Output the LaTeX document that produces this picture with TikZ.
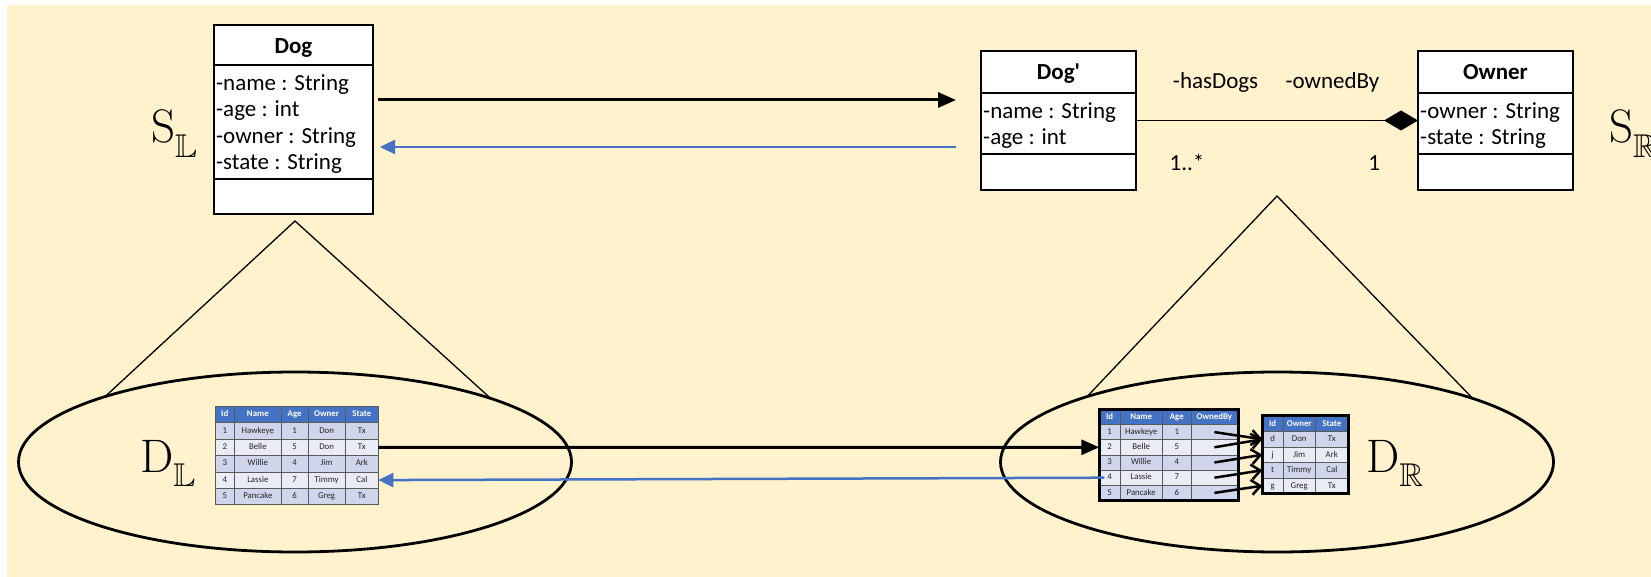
\documentclass[tikz,border=0pt]{standalone}
\usepackage{amssymb}
\usepackage{fontspec}
\usetikzlibrary{arrows.meta,shapes.geometric,matrix}

\newfontfamily\umlfont{Carlito}
\newfontfamily\tabfont{Carlito}

\definecolor{bgyellow}{HTML}{FFF2CC}
\definecolor{mapblue}{HTML}{4472C4}
\definecolor{hdrblue}{HTML}{4472C4}
\definecolor{rowdark}{HTML}{CFD5EA}
\definecolor{rowlight}{HTML}{E9EBF5}
\definecolor{gridgray}{HTML}{5A5A5A}
\definecolor{cellgray}{HTML}{262626}

\begin{document}
\begin{tikzpicture}[x=1pt, y=-1pt,
    classbox/.style={draw, line width=2pt, fill=white, anchor=north west,
        inner sep=0pt, outer sep=0pt},
    attr/.style={anchor=base west, inner sep=0pt,
        font=\umlfont\fontsize{23}{26}\selectfont},
    classname/.style={anchor=base, inner sep=0pt,
        font=\umlfont\fontsize{23}{26}\selectfont\bfseries},
    rolename/.style={anchor=base, inner sep=0pt,
        font=\umlfont\fontsize{23}{26}\selectfont},
    bigname/.style={anchor=base west, inner sep=0pt,
        font=\fontsize{47}{47}\selectfont},
    dataset/.style={ellipse, draw, line width=2.8pt, minimum width=553pt,
        minimum height=180pt, inner sep=0pt, outer sep=0pt},
    dbtable/.style={matrix of nodes, nodes in empty cells, anchor=north west,
        inner sep=0pt, outer sep=0pt, row sep=-0.6pt, column sep=-0.6pt,
        nodes={draw=gridgray, line width=0.6pt, fill=rowlight, anchor=center,
            inner sep=0pt, text height=6.4pt, text depth=1.9pt, text=cellgray,
            font=\tabfont\fontsize{8.8}{9}\selectfont},
        every even row/.style={nodes={fill=rowdark}},
        row 1/.style={nodes={fill=hdrblue, text=white,
            font=\tabfont\fontsize{8.8}{9}\selectfont\bfseries}}},
    fwdmap/.style={line width=3pt, -{Triangle[length=18pt,width=15pt]}},
    backmap/.style={mapblue, line width=2.5pt, -{Triangle[length=15pt,width=14pt]}},
    fkarrow/.style={line width=2.5pt, -{Straight Barb[length=9pt,width=15pt]}},
]
    % Фон
    \useasboundingbox (0,0) rectangle (1651,577);
    \fill[white] (0,0) rectangle (1651,577);
    \fill[bgyellow] (7,5) rectangle (1651,577);

    % Схема слева: класс Dog
    \node[classbox, minimum width=159pt, minimum height=189pt] (dog) at (214,25) {};
    \draw[line width=2pt] (dog.west |- 0,65) -- (dog.east |- 0,65);
    \draw[line width=2pt] (dog.west |- 0,179) -- (dog.east |- 0,179);
    \node[classname] (dogname) at (293.5,53.3) {Dog};
    \foreach \t [count=\i] in {-name : String, -age : int, -owner : String, -state : String}
        \node[attr] (dogattr\i) at (216,64.2+26.3*\i) {\t};

    % Схема справа: Dog' и Owner
    \node[classbox, minimum width=155pt, minimum height=139pt] (dogp) at (981,51) {};
    \draw[line width=2pt] (dogp.west |- 0,92.7) -- (dogp.east |- 0,92.7);
    \draw[line width=2pt] (dogp.west |- 0,154) -- (dogp.east |- 0,154);
    \node[classname] (dogpname) at (1058.5,79.6) {Dog\textquotesingle};
    \foreach \t [count=\i] in {-name : String, -age : int}
        \node[attr] (dogpattr\i) at (983,92.1+26.3*\i) {\t};

    \node[classbox, minimum width=155pt, minimum height=139pt] (owner) at (1418,51) {};
    \draw[line width=2pt] (owner.west |- 0,92.7) -- (owner.east |- 0,92.7);
    \draw[line width=2pt] (owner.west |- 0,154) -- (owner.east |- 0,154);
    \node[classname] (ownername) at (1495.5,79.6) {Owner};
    \foreach \t [count=\i] in {-owner : String, -state : String}
        \node[attr] (ownerattr\i) at (1420,92.1+26.3*\i) {\t};

    % Композиция
    \draw[line width=1.3pt, -{Diamond[length=34pt,width=20pt]}] (dogp.east) -- (owner.west);
    \node[rolename] (hasdogs) at (1215.6,89) {-hasDogs};
    \node[rolename] (ownedby) at (1332.4,89) {-ownedBy};
    \node[rolename] (manyend) at (1187,171) {1..*};
    \node[rolename] (oneend) at (1374.3,171) {1};

    % Отображения между схемами
    \draw[fwdmap, shorten <=5pt, shorten >=25pt] ([yshift=19.5pt]dog.east) -- ([yshift=20.5pt]dogp.west);
    \draw[backmap, shorten <=25pt, shorten >=7pt] ([yshift=-26.5pt]dogp.west) -- ([yshift=-27.5pt]dog.east);

    % Обозначения
    \node[bigname] (sl) at (151,143) {$\mathrm{S}_{\mathbb{L}}$};
    \node[bigname] (sr) at (1609,143) {$\mathrm{S}_{\mathbb{R}}$};
    \node[bigname] (dlname) at (140,472) {$\mathrm{D}_{\mathbb{L}}$};
    \node[bigname] (drname) at (1366,472) {$\mathrm{D}_{\mathbb{R}}$};

    % Множества данных
    \node[dataset] (lset) at (295,462) {};
    \node[dataset] (rset) at (1277,462) {};
    \coordinate (lapex) at (295,221);
    \coordinate (rapex) at (1277,196);
    \draw[line width=1.3pt] (lset.161.9) -- (lapex) -- (lset.18.1);
    \draw[line width=1.3pt] (rset.161.9) -- (rapex) -- (rset.18.1);

    % Таблицы
    \matrix (ltab) [dbtable, nodes={minimum height=16.4pt},
        column 1/.style={nodes={minimum width=18.9pt}},
        column 2/.style={nodes={minimum width=47.3pt}},
        column 3/.style={nodes={minimum width=26.3pt}},
        column 4/.style={nodes={minimum width=37.6pt}},
        column 5/.style={nodes={minimum width=32.9pt}}] at (215,406) {
        Id & Name & Age & Owner & State \\
        1 & Hawkeye & 1 & Don & Tx \\
        2 & Belle & 5 & Don & Tx \\
        3 & Willie & 4 & Jim & Ark \\
        4 & Lassie & 7 & Timmy & Cal \\
        5 & Pancake & 6 & Greg & Tx \\
    };

    \matrix (rtab) [dbtable, nodes={minimum height=15.2pt},
        column 1/.style={nodes={minimum width=20.6pt}},
        column 2/.style={nodes={minimum width=42.6pt}},
        column 3/.style={nodes={minimum width=28.6pt}},
        column 4/.style={nodes={minimum width=46.6pt}}] at (1099,409) {
        Id & Name & Age & OwnedBy \\
        1 & Hawkeye & 1 & \\
        2 & Belle & 5 & \\
        3 & Willie & 4 & \\
        4 & Lassie & 7 & \\
        5 & Pancake & 6 & \\
    };
    \draw[line width=3pt] (rtab.north west) rectangle (rtab.south east);

    \matrix (otab) [dbtable, nodes={minimum height=15.5pt},
        column 1/.style={nodes={minimum width=20.6pt}},
        column 2/.style={nodes={minimum width=32.6pt}},
        column 3/.style={nodes={minimum width=32.6pt}}] at (1262,415.7) {
        Id & Owner & State \\
        d & Don & Tx \\
        j & Jim & Ark \\
        t & Timmy & Cal \\
        g & Greg & Tx \\
    };
    \draw[line width=3pt] (otab.north west) rectangle (otab.south east);

    % Внешние ключи
    \foreach \a/\b in {2/2,3/2,4/3,5/4,6/5}
        \draw[fkarrow] (rtab-\a-4.center) -- (otab-\b-1.west);

    % Отображения между данными
    \draw[fwdmap] (ltab-3-5.east) -- (rtab-3-1.west);
    \draw[backmap] ([xshift=5pt]rtab-5-1.west) -- (ltab-5-5.east);
\end{tikzpicture}
\end{document}
